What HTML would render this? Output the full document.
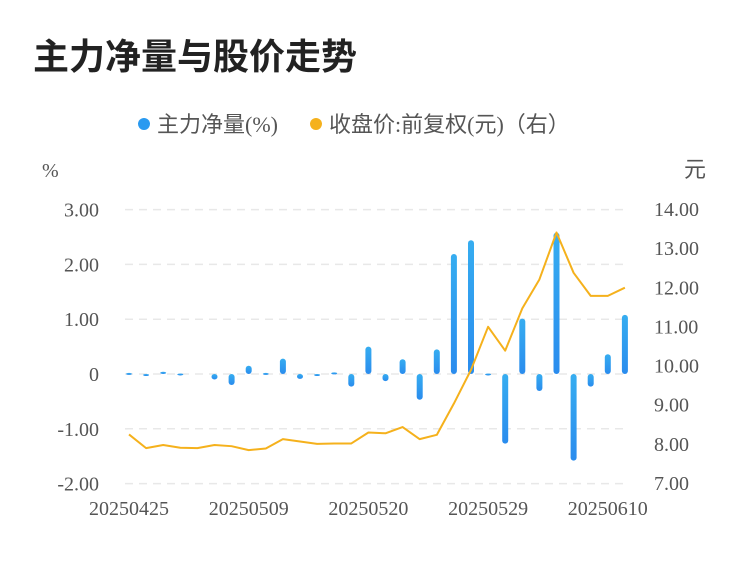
<!DOCTYPE html>
<html><head><meta charset="utf-8">
<style>
body{margin:0;background:#fff;}
svg text{font-family:"Liberation Serif","Noto Sans CJK SC",serif;}
</style></head>
<body>
<svg width="750" height="558" viewBox="0 0 750 558" xmlns="http://www.w3.org/2000/svg">
<defs>
<linearGradient id="bg" x1="0" y1="0" x2="0" y2="1"><stop offset="0" stop-color="#36adf0"/><stop offset="1" stop-color="#2a8cee"/></linearGradient>
</defs>
<text x="33" y="69" font-size="36" font-weight="bold" fill="#222" style="font-family:'Liberation Sans','Noto Sans CJK SC',sans-serif">主力净量与股价走势</text>
<g style="font-family:'Liberation Sans','Noto Sans CJK SC',sans-serif">
<circle cx="144" cy="124" r="6" fill="#2a9af0"/>
<text x="157" y="132" font-size="22" fill="#555">主力净量(%)</text>
<circle cx="316" cy="124" r="6" fill="#f5b11c"/>
<text x="329" y="132" font-size="22" fill="#555">收盘价:前复权(元)（右）</text>
</g>
<text x="42" y="177" font-size="20" fill="#555">%</text>
<text x="684" y="177" font-size="22" fill="#555" style="font-family:'Liberation Sans','Noto Sans CJK SC',sans-serif">元</text>
<g id="grid"></g><g id="bars"></g><g id="line"></g><g id="axes"></g>
</svg>
<script>
const dates=["20250425","20250428","20250429","20250430","20250506","20250507","20250508","20250509","20250512","20250513","20250514","20250515","20250516","20250519","20250520","20250521","20250522","20250523","20250526","20250527","20250528","20250529","20250530","20250603","20250604","20250605","20250606","20250609","20250610","20250611"];
const netFlow=[0.02,-0.03,0.04,0.01,0,-0.1,-0.2,0.15,0.02,0.28,-0.09,-0.03,0.03,-0.23,0.5,-0.13,0.27,-0.47,0.45,2.19,2.44,0.01,-1.27,1.01,-0.31,2.58,-1.58,-0.23,0.36,1.08];
const price=[8.24,7.89,7.97,7.90,7.89,7.97,7.94,7.84,7.88,8.12,8.06,8.00,8.01,8.01,8.29,8.27,8.43,8.12,8.23,9.03,9.89,10.99,10.38,11.46,12.20,13.40,12.37,11.78,11.78,11.99];
const leftTicks=[3,2,1,0,-1,-2];
const leftLabels=["3.00","2.00","1.00","0","-1.00","-2.00"];
const rightTicks=[14,13,12,11,10,9,8,7];
const rightLabels=["14.00","13.00","12.00","11.00","10.00","9.00","8.00","7.00"];
const xLabelIdx=[0,7,14,21,28];
const NS="http://www.w3.org/2000/svg";
const yL=v=>374-v*54.8;
const yR=v=>209+(14-v)*39.14;
const xS=i=>129+i*17.1;
function mk(t,a,p){const e=document.createElementNS(NS,t);for(const k in a)e.setAttribute(k,a[k]);document.getElementById(p).appendChild(e);return e;}
leftTicks.forEach((v,i)=>{
 const g=mk('line',{x1:125,x2:628,y1:yL(v),y2:yL(v),stroke:'#e8e8e8','stroke-width':1.5,'stroke-dasharray':'8,6'},'grid');
 
 
 const t=mk('text',{x:99,y:yL(v)+7,'font-size':20,fill:'#555','text-anchor':'end'},'axes');
 t.textContent=leftLabels[i];
 
 
});
rightTicks.forEach((v,i)=>{
 const t=mk('text',{x:654,y:yR(v)+7,'font-size':20,fill:'#555'},'axes');
 t.textContent=rightLabels[i];
 
 
});
xLabelIdx.forEach(i=>{
 const t=mk('text',{x:xS(i),y:515,'font-size':20,fill:'#555','text-anchor':'middle'},'axes');
 t.textContent=dates[i];
 
 
});
netFlow.forEach((v,i)=>{
 if(Math.abs(v)<0.005)return;
 const y0=yL(0),y1=yL(v);
 const h=Math.max(Math.abs(y1-y0),2);
 const r=mk('rect',{x:xS(i)-3,y:Math.min(y0,y1),width:6,height:h,rx:3,fill:'url(#bg)'},'bars');
 
 
});
const pl=mk('polyline',{points:price.map((v,i)=>xS(i)+','+yR(v)).join(' '),fill:'none',stroke:'#f5b11c','stroke-width':2,'stroke-linejoin':'round'},'line');


</script>
</body></html>
